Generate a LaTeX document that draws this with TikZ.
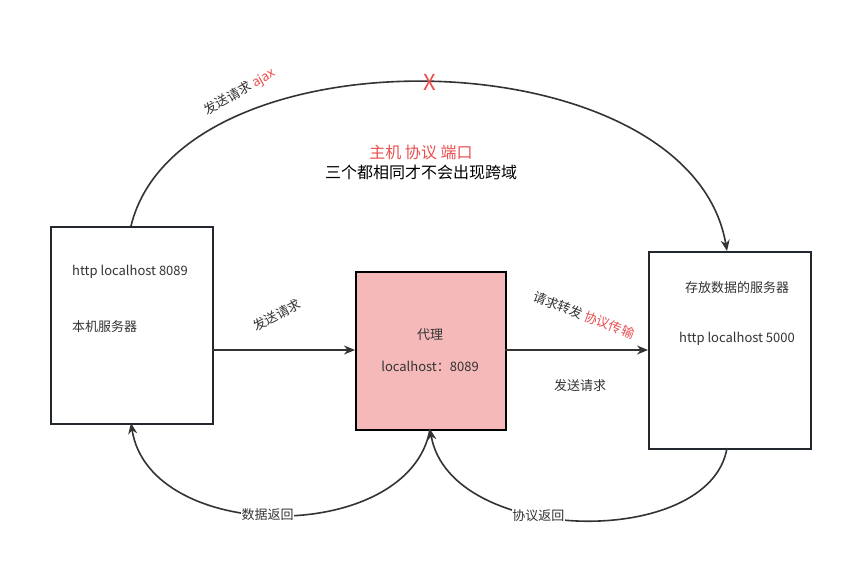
\documentclass[tikz,border=0pt]{standalone}
\usepackage{fontspec}
\setmainfont{Noto Sans CJK SC}
\usetikzlibrary{arrows.meta}
\definecolor{ink}{HTML}{333333}
\definecolor{boxline}{HTML}{23272E}
\definecolor{redtxt}{HTML}{EA5050}
\definecolor{pinkfill}{HTML}{F4B9B8}
\tikzset{
  box/.style={draw=boxline, line width=2pt, minimum width=162pt, minimum height=197pt, inner sep=0pt},
  conn/.style={draw=ink, line width=1.6pt, -{Stealth[length=11pt,width=9pt]}},
  lbl/.style={text=ink, font=\fontsize{13}{15}\selectfont, inner sep=1pt},
  big/.style={font=\fontsize{16}{19}\selectfont, inner sep=1pt},
}
\begin{document}
\begin{tikzpicture}[x=1pt,y=-1pt]
\useasboundingbox[fill=white] (0,0) rectangle (842,573);
% boxes
\node[box, anchor=north west] (L) at (50,226) {};
\node[box, anchor=north west, fill=pinkfill, draw=black, minimum width=150pt, minimum height=158pt] (P) at (355,271) {};
\node[box, anchor=north west] (R) at (648,251) {};
% coordinates
\coordinate (Ltop) at (131,226);
\coordinate (Rtop) at (727,251);
\coordinate (Lbot) at (131,423);
\coordinate (Pbot) at (430,429);
\coordinate (Rbot) at (727,448);
\coordinate (Lr) at (212,350);
\coordinate (Pl) at (355,350);
\coordinate (Pr) at (505,350);
\coordinate (Rl) at (648,350);
% connectors
\draw[conn] (Lr) -- (Pl);
\draw[conn] (Pr) -- (Rl);
\draw[conn] (Ltop) .. controls (180,25) and (690,35) .. (Rtop);
\draw[conn] (Pbot) .. controls (410,545) and (150,545) .. (Lbot)
  node[pos=0.53, fill=white, lbl, inner sep=0.5pt] (lb1) {数据返回};
\draw[conn] (Rbot) .. controls (710,550) and (450,545) .. (Pbot)
  node[pos=0.6, fill=white, lbl, inner sep=0.5pt] (lb2) {协议返回};
% red X
\node[text=redtxt, font=\fontsize{22}{24}\selectfont, inner sep=0pt] (X) at (430,82) {X};
% texts
\node[lbl, rotate=30] (t1) at (240,92) {发送请求 \textcolor{redtxt}{ajax}};
\node[big, text=redtxt] (t2) at (421,152) {主机 协议 端口};
\node[big, text=black] (t3) at (421,172) {三个都相同才不会出现跨域};
\node[lbl, anchor=west] (t4) at (71,272) {http localhost 8089};
\node[lbl, anchor=west] (t5) at (71,327) {本机服务器};
\node[lbl, rotate=28] (t6) at (277,315) {发送请求};
\node[lbl] (t7) at (430,335) {代理};
\node[lbl] (t8) at (430,366) {localhost：8089};
\node[lbl, rotate=-21] (t9) at (584,315) {请求转发 \textcolor{redtxt}{协议传输}};
\node[lbl] (t10) at (580,386) {发送请求};
\node[lbl] (t11) at (737,288) {存放数据的服务器};
\node[lbl] (t12) at (737,339) {http localhost 5000};
\end{tikzpicture}
\end{document}
